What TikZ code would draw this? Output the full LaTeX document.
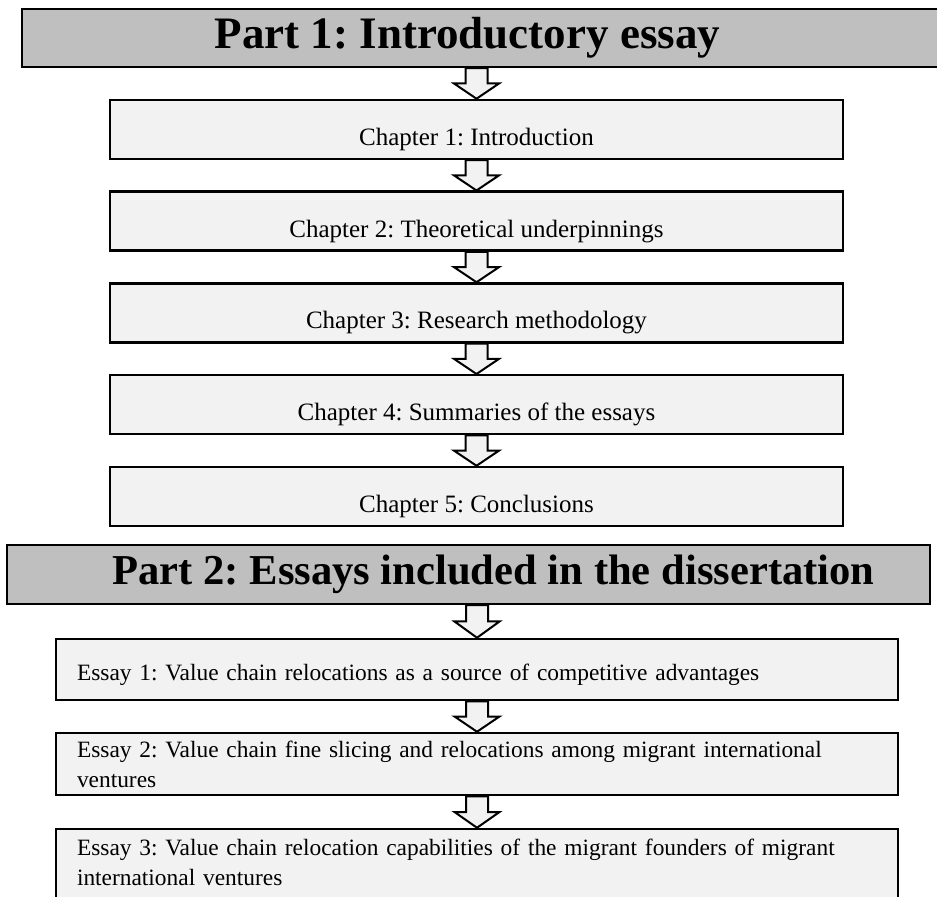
\documentclass[tikz,border=0pt]{standalone}
\usepackage{fontspec}
\setmainfont{Liberation Serif}
\usepackage{tikz}
\usetikzlibrary{positioning, calc}

\definecolor{headgray}{RGB}{191,191,191}
\definecolor{boxgray}{RGB}{242,242,242}

\tikzset{
  partbox/.style={draw=black, fill=headgray, line width=1.25pt, inner sep=0pt,
    font=\fontsize{22.5}{26}\selectfont\bfseries},
  chapbox/.style={draw=black, fill=boxgray, line width=1.25pt, inner sep=0pt,
    minimum width=366.5pt, minimum height=29.5pt, text height=16pt, text depth=0pt,
    font=\fontsize{12.5}{15}\selectfont},
  essaybox/.style={draw=black, fill=boxgray, line width=1.25pt, inner sep=0pt,
    minimum width=421pt, text width=400pt, align=left,
    font=\fontsize{11.7}{15}\selectfont},
  hollowarrow/.style={draw=black, fill=boxgray, line width=1pt, line join=miter}
}

% hollow block arrow from the bottom of #1 down to the top of #2
\newcommand{\blockdown}[2]{%
  \draw[hollowarrow] let \p1=(#1.south -| #2.north), \p2=(#2.north), \n1={(\y1+\y2)/2} in
    (\x1-5.5pt,\y1) -- (\x1+5.5pt,\y1) -- (\x1+5.5pt,\n1) -- (\x1+11.25pt,\n1)
    -- (\x2,\y2) -- (\x1-11.25pt,\n1) -- (\x1-5.5pt,\n1) -- cycle;}

\begin{document}
\frenchspacing
\hyphenpenalty=10000
\begin{tikzpicture}[x=0.5pt,y=-0.5pt]
  \useasboundingbox (0,0) rectangle (937,897);
  \clip (0,0) rectangle (937,897);

  % Part 1
  \node[partbox, minimum width=461.5pt, minimum height=29pt] (part1) at (483.5,38) {\hspace*{-16pt}Part 1: Introductory essay};

  % chapters
  \node[chapbox] (ch1) at (476.5,129.5) {Chapter 1: Introduction};
  \node[chapbox] (ch2) at (476.5,221.25) {Chapter 2: Theoretical underpinnings};
  \node[chapbox] (ch3) at (476.5,313) {Chapter 3: Research methodology};
  \node[chapbox] (ch4) at (476.5,404.75) {Chapter 4: Summaries of the essays};
  \node[chapbox] (ch5) at (476.5,496.5) {Chapter 5: Conclusions};

  % Part 2
  \node[partbox, minimum width=461.5pt, minimum height=29.5pt, font=\fontsize{21.3}{25}\selectfont\bfseries] (part2) at (468.5,574.5) {\hspace*{25pt}Part 2: Essays included in the dissertation};

  % essays
  \node[essaybox, minimum height=30.5pt, text height=13pt, text depth=2.5pt] (es1) at (477,669.5) {Essay 1: Value chain relocations as a source of competitive advantages};
  \node[essaybox, minimum height=31pt] (es2) at (477,764) {Essay 2: Value chain fine slicing and relocations among migrant international ventures};
  \node[essaybox, minimum height=40pt] (es3) at (477,869) {Essay 3: Value chain relocation capabilities of the migrant founders of migrant international ventures\\[-8.5pt]\mbox{}};

  % arrows
  \blockdown{part1}{ch1}
  \blockdown{ch1}{ch2}
  \blockdown{ch2}{ch3}
  \blockdown{ch3}{ch4}
  \blockdown{ch4}{ch5}
  \blockdown{part2}{es1}
  \blockdown{es1}{es2}
  \blockdown{es2}{es3}
\end{tikzpicture}
\end{document}
